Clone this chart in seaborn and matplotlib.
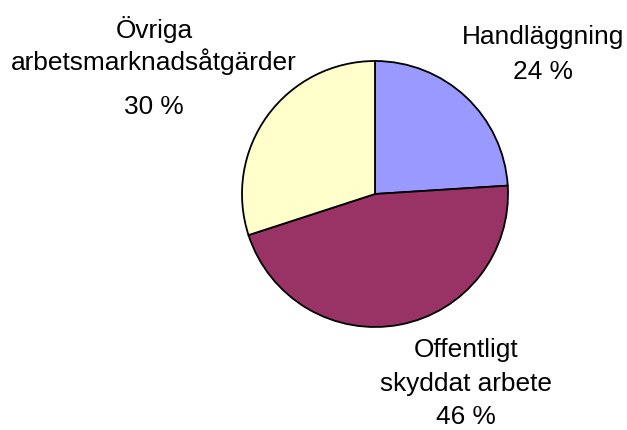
import matplotlib
matplotlib.use("Agg")
import matplotlib.pyplot as plt
import seaborn as sns

# ── Data ──────────────────────────────────────────────────────────
categories = ["Handläggning", "Offentligt skyddat arbete", "Övriga arbetsmarknadsåtgärder"]
shares = [24, 46, 30]
label_lines = [["Handläggning"], ["Offentligt", "skyddat arbete"], ["Övriga", "arbetsmarknadsåtgärder"]]
colors = ["#9999FF", "#993366", "#FFFFCC"]

# ── Style ─────────────────────────────────────────────────────────
sns.set_theme(style="white")
plt.rcParams["font.family"] = ["Liberation Sans", "DejaVu Sans"]

W, H, DPI = 627, 430, 100
CX, CY, R = 375, 194, 133          # pie centre / radius in pixels
FS = 18.9

# label anchor: centre x and line baselines (pixels from top)
label_pos = [(543, [44, 79]), (466, [357, 391, 424]), (154, [38, 70, 114])]

fig = plt.figure(figsize=(W / DPI, H / DPI), dpi=DPI, facecolor="white")
ax = fig.add_axes([0, 0, 1, 1])
ax.pie(shares, colors=sns.color_palette(colors), startangle=90, counterclock=False,
       wedgeprops=dict(edgecolor="black", linewidth=1.3))
ax.set_xlim(-CX / R, (W - CX) / R)
ax.set_ylim(-(H - CY) / R, CY / R)
ax.set_aspect("equal")
ax.axis("off")

for lines, share, (px, bases) in zip(label_lines, shares, label_pos):
    for txt, py in zip(lines + [f"{share} %"], bases):
        ax.text((px - CX) / R, (CY - py) / R, txt, ha="center", va="baseline",
                fontsize=FS, color="black")

fig.savefig("out.png", dpi=DPI, facecolor="white")
